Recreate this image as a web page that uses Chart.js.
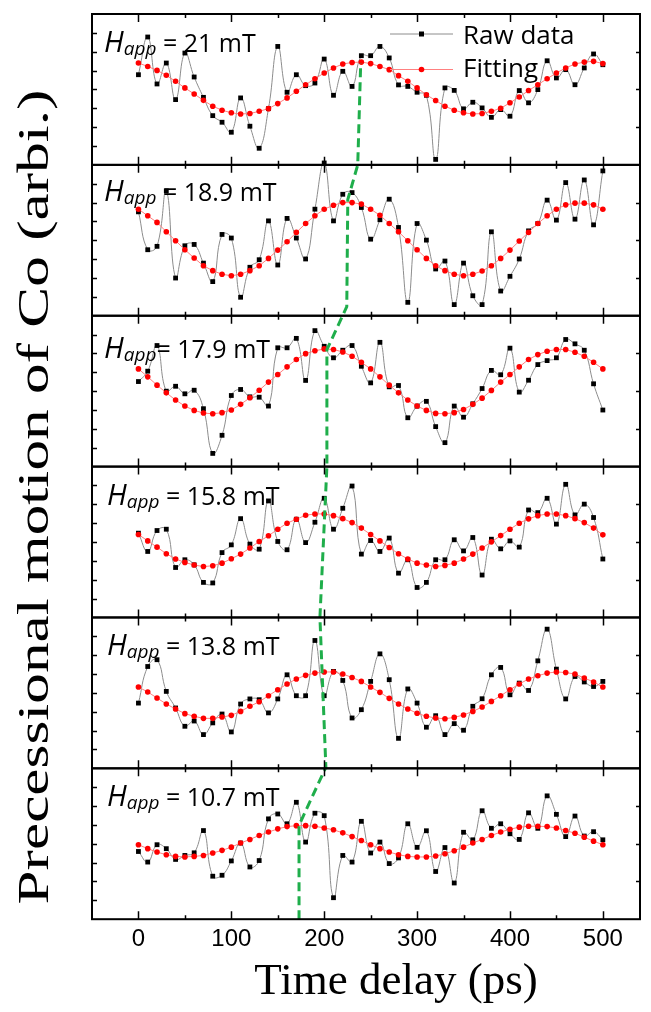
<!DOCTYPE html>
<html>
<head>
<meta charset="utf-8">
<script src="https://cdn.jsdelivr.net/npm/chart.js@4.4.0/dist/chart.umd.min.js"></script>
<style>
  html, body { margin: 0; padding: 0; background: #fff; }
  #wrap { width: 651px; height: 1012px; }
</style>
</head>
<body>
<div id="wrap"><canvas id="chart"></canvas></div>
<script>
// time axis (ps), one sample every 10 ps
var times = [0,10,20,30,40,50,60,70,80,90,100,110,120,130,140,150,160,170,180,190,200,
  210,220,230,240,250,260,270,280,290,300,310,320,330,340,350,360,370,380,390,400,
  410,420,430,440,450,460,470,480,490,500];
var xTicks = [0, 100, 200, 300, 400, 500];

// applied field of each panel, top to bottom
var fields = ["21", "18.9", "17.9", "15.8", "13.8", "10.7"];

// raw data and fitting, per panel (arbitrary units)
var raw21 = [0.78,2.78,0.29,1.40,-0.54,1.93,0.66,-0.42,-1.39,-1.74,-2.27,-0.45,-1.95,-3.12,-1.02,2.28,-0.15,0.78,0.20,0.34,
  1.61,-0.31,0.96,0.16,1.79,1.79,2.28,1.67,0.24,0.16,-0.15,-0.31,-3.71,0.08,-0.05,-1.03,-0.68,-0.98,-1.48,-1.07,
  -1.42,-0.06,-0.71,-0.01,1.52,0.61,1.05,0.25,1.14,1.88,1.31];
var fit21 = [1.40,1.22,1.01,0.75,0.43,0.08,-0.24,-0.58,-0.89,-1.10,-1.24,-1.30,-1.28,-1.16,-1.02,-0.75,-0.45,-0.10,0.25,0.57,
  0.87,1.14,1.35,1.43,1.45,1.37,1.22,1.05,0.73,0.43,0.08,-0.28,-0.59,-0.89,-1.10,-1.24,-1.30,-1.28,-1.16,-1.00,
  -0.71,-0.40,-0.06,0.25,0.57,0.87,1.14,1.35,1.45,1.49,1.37];

var raw189 = [1.51,-0.50,-0.32,2.62,-2.00,-0.29,-0.22,-1.21,-2.19,0.31,0.12,-3.02,-1.43,-1.03,1.03,-1.31,1.16,0.12,-0.99,1.65,
  4.10,1.03,2.44,2.53,1.74,0.06,1.09,2.18,0.68,-3.29,0.89,0.01,-1.52,-1.10,-3.41,-1.21,-2.94,-3.41,0.45,-2.69,
  -1.91,-0.99,0.50,0.89,2.13,1.07,3.06,1.12,3.20,0.82,3.68];
var fit189 = [1.65,1.30,0.95,0.45,-0.02,-0.50,-0.94,-1.35,-1.61,-1.80,-1.88,-1.80,-1.61,-1.35,-0.96,-0.52,-0.08,0.42,0.89,1.30,
  1.65,1.86,2.00,2.00,1.92,1.65,1.33,0.89,0.45,-0.02,-0.50,-0.96,-1.35,-1.61,-1.80,-1.88,-1.80,-1.63,-1.35,-0.96,
  -0.52,-0.04,0.42,0.89,1.30,1.65,1.88,1.97,1.97,1.88,1.65];

var raw179 = [0.51,1.06,2.42,0.00,0.26,-0.14,0.05,-0.93,-3.30,-2.34,-0.23,0.09,-0.30,-0.32,-0.79,2.30,2.30,2.80,0.57,3.21,
  2.38,1.77,2.17,2.42,1.32,0.44,2.59,0.23,0.30,-1.41,-0.79,-0.54,-1.88,-2.73,-0.79,-1.38,-0.67,0.14,1.10,0.87,
  2.28,-0.05,0.58,1.41,1.62,1.77,2.74,2.51,2.17,0.39,-1.00];
var fit179 = [1.18,0.76,0.32,-0.09,-0.47,-0.79,-1.02,-1.16,-1.20,-1.14,-1.00,-0.70,-0.35,0.05,0.48,0.88,1.29,1.68,1.99,2.14,
  2.24,2.21,2.08,1.85,1.53,1.18,0.76,0.32,-0.09,-0.47,-0.79,-1.02,-1.18,-1.20,-1.14,-0.97,-0.70,-0.37,0.04,0.48,
  0.88,1.29,1.68,1.94,2.12,2.21,2.21,2.06,1.85,1.53,1.18];

var raw158 = [0.47,-0.50,0.61,0.68,-1.35,-0.94,-1.21,-2.14,-2.17,-0.56,-0.15,1.24,-0.11,-0.38,2.18,0.03,-0.41,1.21,-0.03,1.05,
  2.32,0.68,1.79,2.97,-0.64,0.08,-0.50,0.21,-1.65,-0.94,-2.41,-2.14,-0.94,-0.94,0.12,-0.47,0.24,-1.75,0.15,-0.36,
  0.06,-0.27,1.70,1.56,2.32,0.95,3.06,1.44,2.01,1.30,-0.90];
var fit158 = [0.40,0.06,-0.27,-0.62,-0.90,-1.08,-1.22,-1.30,-1.26,-1.12,-0.89,-0.64,-0.32,0.03,0.33,0.68,1.00,1.21,1.42,1.49,
  1.49,1.40,1.24,1.03,0.74,0.40,0.06,-0.29,-0.62,-0.90,-1.12,-1.22,-1.30,-1.24,-1.12,-0.90,-0.64,-0.32,0.01,0.34,
  0.68,1.00,1.23,1.40,1.49,1.49,1.40,1.24,1.03,0.74,0.38];

var raw138 = [-0.54,1.40,1.76,0.08,-0.80,-1.77,-1.49,-2.21,-1.59,-1.12,-2.07,-0.59,-0.32,-0.36,-1.06,-0.32,0.96,-0.15,-0.15,2.78,
  -0.15,1.14,0.66,-1.33,-0.89,0.61,2.07,0.70,-2.41,0.21,-0.54,-1.82,-1.21,-2.21,-1.63,-1.98,-0.71,-0.31,0.96,1.35,
  -0.10,0.52,0.13,1.70,3.38,1.26,-0.32,0.87,0.58,0.34,0.61];
var fit138 = [0.31,0.05,-0.27,-0.59,-0.85,-1.10,-1.24,-1.35,-1.35,-1.28,-1.19,-0.98,-0.71,-0.47,-0.15,0.17,0.47,0.74,0.93,1.05,
  1.11,1.11,1.00,0.82,0.61,0.31,0.03,-0.29,-0.59,-0.85,-1.08,-1.24,-1.33,-1.37,-1.30,-1.17,-0.98,-0.75,-0.45,-0.15,
  0.17,0.47,0.74,0.91,1.05,1.11,1.08,1.00,0.79,0.58,0.31];

var raw107 = [-0.41,-0.97,-0.05,-0.26,-0.83,-0.62,-0.48,0.70,-1.72,-1.67,-0.91,0.04,-1.23,-0.89,1.32,1.58,1.06,2.20,0.09,1.62,
  1.49,-2.86,-0.62,-0.97,1.19,-0.49,0.09,-1.05,-0.75,1.06,-0.19,0.69,-1.47,-0.20,-2.08,0.61,0.21,1.75,0.82,1.06,
  0.53,0.23,1.64,0.82,2.54,1.56,0.38,1.47,0.41,0.64,0.21];
var fit107 = [-0.05,-0.26,-0.44,-0.58,-0.67,-0.70,-0.67,-0.62,-0.49,-0.35,-0.18,0.04,0.23,0.44,0.62,0.79,0.91,0.96,0.96,0.93,
  0.84,0.74,0.58,0.38,0.17,-0.05,-0.26,-0.44,-0.58,-0.67,-0.70,-0.70,-0.65,-0.53,-0.37,-0.18,0.04,0.23,0.44,0.62,
  0.77,0.88,0.93,0.93,0.91,0.84,0.70,0.56,0.35,0.14,-0.05];

// green guide through the fitted peaks (time in ps, height in panel units: 0 = bottom, 6 = top)
var guideT = [172.9, 172.9, 201.8, 195.4, 202.9, 202.9, 224.3, 225.4, 236.1, 239.3];
var guideY = [0, 0.623, 1.007, 2.0, 3.0, 3.775, 4.06, 4.77, 5.0, 5.675];

var rawSets = [raw21, raw189, raw179, raw158, raw138, raw107];
var fitSets = [fit21, fit189, fit179, fit158, fit138, fit107];

function pairs(ys) {
  return times.map(function (t, i) { return { x: t, y: ys[i] }; });
}

var datasets = [];
datasets.push({
  label: "guide",
  data: guideT.map(function (t, i) { return { x: t, y: guideY[i] }; }),
  yAxisID: "g",
  borderColor: "#1fae4b",
  borderWidth: 3,
  borderDash: [9, 5],
  pointRadius: 0,
  tension: 0,
  clip: false,
  order: 0
});
fields.forEach(function (f, i) {
  datasets.push({
    label: "Fitting " + f,
    data: pairs(fitSets[i]),
    yAxisID: "p" + i,
    borderColor: "#ff8080",
    borderWidth: 1,
    pointStyle: "circle",
    pointRadius: 2.8,
    pointBackgroundColor: "#ff0000",
    pointBorderWidth: 0,
    tension: 0,
    clip: false,
    order: 1
  });
  datasets.push({
    label: "Raw data " + f,
    data: pairs(rawSets[i]),
    yAxisID: "p" + i,
    borderColor: "#8c8c8c",
    borderWidth: 1,
    pointStyle: "rect",
    pointRadius: 3.4,
    pointBackgroundColor: "#000000",
    pointBorderWidth: 0,
    tension: 0.45,
    clip: false,
    order: 2
  });
});

var scales = {
  x: {
    type: "linear",
    min: -50,
    max: 540,
    afterBuildTicks: function (scale) {
      scale.ticks = xTicks.map(function (v) { return { value: v }; });
    },
    grid: { display: false, drawTicks: false },
    border: { display: false },
    ticks: {
      color: "#000",
      padding: 6,
      font: { family: "Liberation Sans", size: 24 }
    }
  },
  g: { type: "linear", min: 0, max: 6, display: false }
};
fields.forEach(function (f, i) {
  scales["p" + i] = {
    type: "linear",
    position: "right",
    stack: "panels",
    stackWeight: 1,
    min: -4,
    max: 4,
    display: false
  };
});

// frames, inward ticks, panel labels, legend and axis titles
var decor = {
  id: "decor",
  afterDatasetsDraw: function (chart) {
    var ctx = chart.ctx;
    var area = chart.chartArea;
    var xs = chart.scales.x;
    ctx.save();
    ctx.strokeStyle = "#000";
    ctx.fillStyle = "#000";
    fields.forEach(function (f, i) {
      var s = chart.scales["p" + i];
      ctx.lineWidth = 2;
      ctx.strokeRect(area.left, s.top, area.right - area.left, s.bottom - s.top);
      ctx.lineWidth = 1.5;
      ctx.beginPath();
      for (var v = 0; v <= 500; v += 50) {
        var px = Math.round(xs.getPixelForValue(v)) + 0.5;
        var len = v % 100 === 0 ? 8 : 4;
        ctx.moveTo(px, s.top); ctx.lineTo(px, s.top + len);
        ctx.moveTo(px, s.bottom); ctx.lineTo(px, s.bottom - len);
      }
      for (var k = -3; k <= 3; k++) {
        var py = Math.round(s.getPixelForValue(k)) + 0.5;
        ctx.moveTo(area.left, py); ctx.lineTo(area.left + 5, py);
        if (k % 2 === 0) { ctx.moveTo(area.right, py); ctx.lineTo(area.right - 4, py); }
      }
      ctx.stroke();

      // H_app label
      var lx = i < 3 ? area.left + 12 : area.left + 15;
      var base = s.top + [37.7, 36, 42.6, 38.3, 37.3, 38][i];
      ctx.textBaseline = "alphabetic";
      ctx.textAlign = "left";
      ctx.font = "italic 29px 'Open Sans'";
      ctx.fillText("H", lx, base);
      lx += ctx.measureText("H").width;
      ctx.font = "italic 19px 'Open Sans'";
      ctx.fillText("app", lx, base + 3);
      lx += ctx.measureText("app").width;
      ctx.font = "25px 'Open Sans'";
      ctx.fillText((i === 2 ? "= " : " = ") + f + " mT", lx, base);
    });

    // legend
    var lgx = area.left + 298;
    ctx.lineWidth = 1;
    ctx.strokeStyle = "#8c8c8c";
    ctx.beginPath(); ctx.moveTo(lgx, area.top + 20); ctx.lineTo(lgx + 63, area.top + 20); ctx.stroke();
    ctx.fillStyle = "#000";
    ctx.fillRect(lgx + 29, area.top + 17.5, 5, 5);
    ctx.strokeStyle = "#ff8080";
    ctx.beginPath(); ctx.moveTo(lgx, area.top + 55.5); ctx.lineTo(lgx + 63, area.top + 55.5); ctx.stroke();
    ctx.fillStyle = "#ff0000";
    ctx.beginPath(); ctx.arc(lgx + 31.5, area.top + 55.5, 2.8, 0, Math.PI * 2); ctx.fill();
    ctx.fillStyle = "#000";
    ctx.font = "26px 'Open Sans'";
    ctx.fillText("Raw data", lgx + 73, area.top + 29.5);
    ctx.fillText("Fitting", lgx + 73, area.top + 63);
    ctx.restore();
  },
  afterDraw: function (chart) {
    var ctx = chart.ctx;
    ctx.save();
    ctx.fillStyle = "#000";
    ctx.textAlign = "center";
    ctx.textBaseline = "middle";

    ctx.font = "45px 'Liberation Serif'";
    ctx.fillText("Time delay (ps)", 396, 982);

    var text = "Precessional motion of Co (arbi.)";
    ctx.font = "44px 'Liberation Serif'";
    var w = ctx.measureText(text).width;
    ctx.translate(36, 497);
    ctx.rotate(-Math.PI / 2);
    ctx.scale(815 / w, 1);
    ctx.fillText(text, 0, 0);
    ctx.restore();
  }
};

new Chart(document.getElementById("chart"), {
  type: "line",
  data: { datasets: datasets },
  options: {
    responsive: true,
    maintainAspectRatio: false,
    animation: false,
    events: [],
    layout: { padding: { left: 92, right: 11, top: 14, bottom: 52 } },
    plugins: { legend: { display: false }, tooltip: { enabled: false } },
    scales: scales
  },
  plugins: [decor]
});
</script>
</body>
</html>
